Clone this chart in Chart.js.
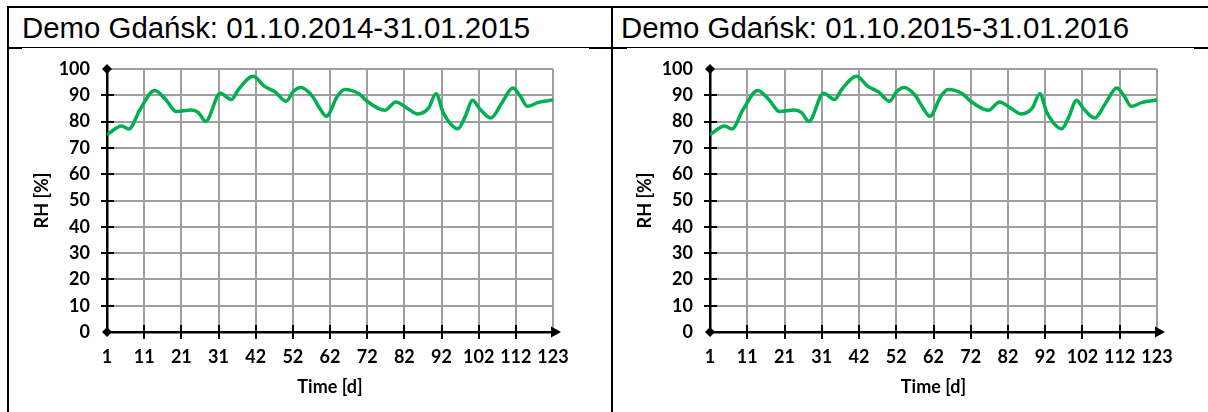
<!DOCTYPE html>
<html>
<head>
<meta charset="utf-8">
<script src="https://cdn.jsdelivr.net/npm/chart.js@4/dist/chart.umd.min.js"></script>
<style>
  html, body { margin: 0; padding: 0; background: #fff; }
  body { width: 1208px; height: 412px; position: relative; overflow: hidden; }
  .rule { position: absolute; background: #000; }
  .caption { position: absolute; top: 8px; height: 39px; line-height: 39px;
             font-family: "Liberation Sans", Arial, sans-serif; font-size: 29.4px;
             color: #000; white-space: nowrap; }
  .box { position: absolute; top: 49px; height: 363px; }
  .box canvas { display: block; }
</style>
</head>
<body>
<!-- table frame -->
<div class="rule" style="left:7px;top:6px;width:1201px;height:2px"></div>
<div class="rule" style="left:7px;top:6px;width:2px;height:406px"></div>
<div class="rule" style="left:611px;top:6px;width:2px;height:406px"></div>
<div class="rule" style="left:7px;top:47px;width:1201px;height:1px"></div>
<div class="rule" style="left:8px;top:47px;width:14px;height:2px"></div>
<div class="rule" style="left:589px;top:47px;width:38px;height:2px"></div>
<div class="rule" style="left:1194px;top:47px;width:14px;height:2px"></div>

<div class="caption" id="cap1" style="left:22px"></div>
<div class="caption" id="cap2" style="left:621px"></div>

<div class="box" style="left:9px;width:602px"><canvas id="c1" width="602" height="363"></canvas></div>
<div class="box" style="left:613px;width:595px"><canvas id="c2" width="595" height="363"></canvas></div>

<script>
// Panel headings
const panelTitles = [
  'Demo Gdańsk: 01.10.2014-31.01.2015',
  'Demo Gdańsk: 01.10.2015-31.01.2016'
];

// Day of the period and relative humidity [%]
const days = [1, 5, 7, 10, 14, 17, 20, 24, 26, 28, 32, 35, 37, 41, 44, 47, 50, 52, 54, 57,
              59, 61, 64, 66, 70, 72, 77, 80, 83, 86, 89, 91, 93, 97, 99, 101, 103, 106, 109, 112,
              114, 116, 119, 123];
const rh = [75, 78.3, 77.2, 84.5, 91.8, 88.5, 83.8, 84.4, 83.4, 80.1, 90.8, 88.4, 92.3, 97.2, 93.5, 91.3, 87.7, 91.5, 93, 90,
            85.5, 82, 89.6, 92.2, 90.5, 87.9, 84.3, 87.5, 85.2, 82.9, 85.2, 90.6, 83.3, 77.3, 82, 88.1, 84.8, 81.4, 87.1, 92.8,
            89.8, 85.8, 87.3, 88.2];

// Day labels along the time axis (12 equal divisions of the period)
const xTickLabels = ['1', '11', '21', '31', '42', '52', '62', '72', '82', '92', '102', '112', '123'];

const yTitle = 'RH [%]';
const xTitle = 'Time [d]';

const FONT = 'Lato';
const FS = 18;

// Axis arrows, diamonds and crossing tick marks
const axisDecor = {
  id: 'axisDecor',
  afterDraw(chart) {
    const { ctx, chartArea: a, scales: { x, y } } = chart;
    ctx.save();
    ctx.strokeStyle = '#000';
    ctx.fillStyle = '#000';
    ctx.lineWidth = 2;
    y.ticks.forEach(t => {
      if (t.value <= 0 || t.value >= 100) return;
      const py = Math.round(y.getPixelForValue(t.value));
      ctx.beginPath(); ctx.moveTo(a.left - 6, py); ctx.lineTo(a.left + 7, py); ctx.stroke();
    });
    x.ticks.forEach((t, i) => {
      if (i === 0 || i === x.ticks.length - 1) return;
      const px = Math.round(x.getPixelForValue(t.value));
      ctx.beginPath(); ctx.moveTo(px, a.bottom - 7); ctx.lineTo(px, a.bottom + 7); ctx.stroke();
    });
    // extend x axis to the arrow
    ctx.lineWidth = 2.5;
    ctx.beginPath(); ctx.moveTo(a.right, a.bottom); ctx.lineTo(a.right + 4, a.bottom); ctx.stroke();
    const diamond = (cx, cy, r) => {
      ctx.beginPath();
      ctx.moveTo(cx, cy - r); ctx.lineTo(cx + r, cy); ctx.lineTo(cx, cy + r); ctx.lineTo(cx - r, cy);
      ctx.closePath(); ctx.fill();
    };
    diamond(a.left, a.top, 5);
    diamond(a.left, a.bottom, 5);
    ctx.beginPath();
    ctx.moveTo(a.right + 8, a.bottom);
    ctx.lineTo(a.right - 2, a.bottom - 5.5);
    ctx.lineTo(a.right - 2, a.bottom + 5.5);
    ctx.closePath(); ctx.fill();
    ctx.restore();
  }
};

function makeChart(id, areaLeft, padRight) {
  const lh = FS * 1.2;
  return new Chart(document.getElementById(id), {
    type: 'line',
    data: {
      datasets: [{
        data: days.map((d, i) => ({ x: d, y: rh[i] })),
        borderColor: '#00b050',
        borderWidth: 3.5,
        pointRadius: 0,
        cubicInterpolationMode: 'monotone',
        fill: false
      }]
    },
    options: {
      responsive: false,
      animation: false,
      layout: { padding: { top: 20, right: padRight, bottom: 0, left: 0 } },
      plugins: { legend: { display: false }, tooltip: { enabled: false } },
      scales: {
        x: {
          type: 'linear',
          min: 1,
          max: 123,
          afterBuildTicks: s => {
            const n = xTickLabels.length - 1;
            s.ticks = xTickLabels.map((_, i) => ({ value: 1 + i * (122 / n) }));
          },
          afterFit: s => { s.height = 80; },
          ticks: {
            autoSkip: false, maxRotation: 0, padding: 14, color: '#000',
            font: { family: FONT, size: FS, weight: 'bold' },
            callback: (v, i) => xTickLabels[i]
          },
          grid: { color: '#9f9f9f', lineWidth: 2, drawTicks: false },
          border: { color: '#000', width: 2.5 },
          title: {
            display: true, text: xTitle, color: '#000',
            font: { family: FONT, size: FS, weight: 'bold' },
            padding: { top: 0, bottom: 14 }
          }
        },
        y: {
          min: 0,
          max: 100,
          afterFit: s => { s.width = areaLeft; },
          ticks: {
            stepSize: 10, padding: 0, color: '#000',
            font: { family: FONT, size: FS, weight: 'bold' }
          },
          grid: { color: '#9f9f9f', lineWidth: 2, drawTicks: true, tickLength: 17, tickColor: 'rgba(0,0,0,0)' },
          border: { color: '#000', width: 2.5 },
          title: {
            display: true, text: yTitle, color: '#000',
            font: { family: FONT, size: FS, weight: 'bold' },
            padding: { top: areaLeft - 65 - lh / 2, bottom: 0 }
          }
        }
      }
    },
    plugins: [axisDecor]
  });
}

document.getElementById('cap1').textContent = panelTitles[0];
document.getElementById('cap2').textContent = panelTitles[1];
makeChart('c1', 98, 58);
makeChart('c2', 97, 51);
</script>
</body>
</html>
